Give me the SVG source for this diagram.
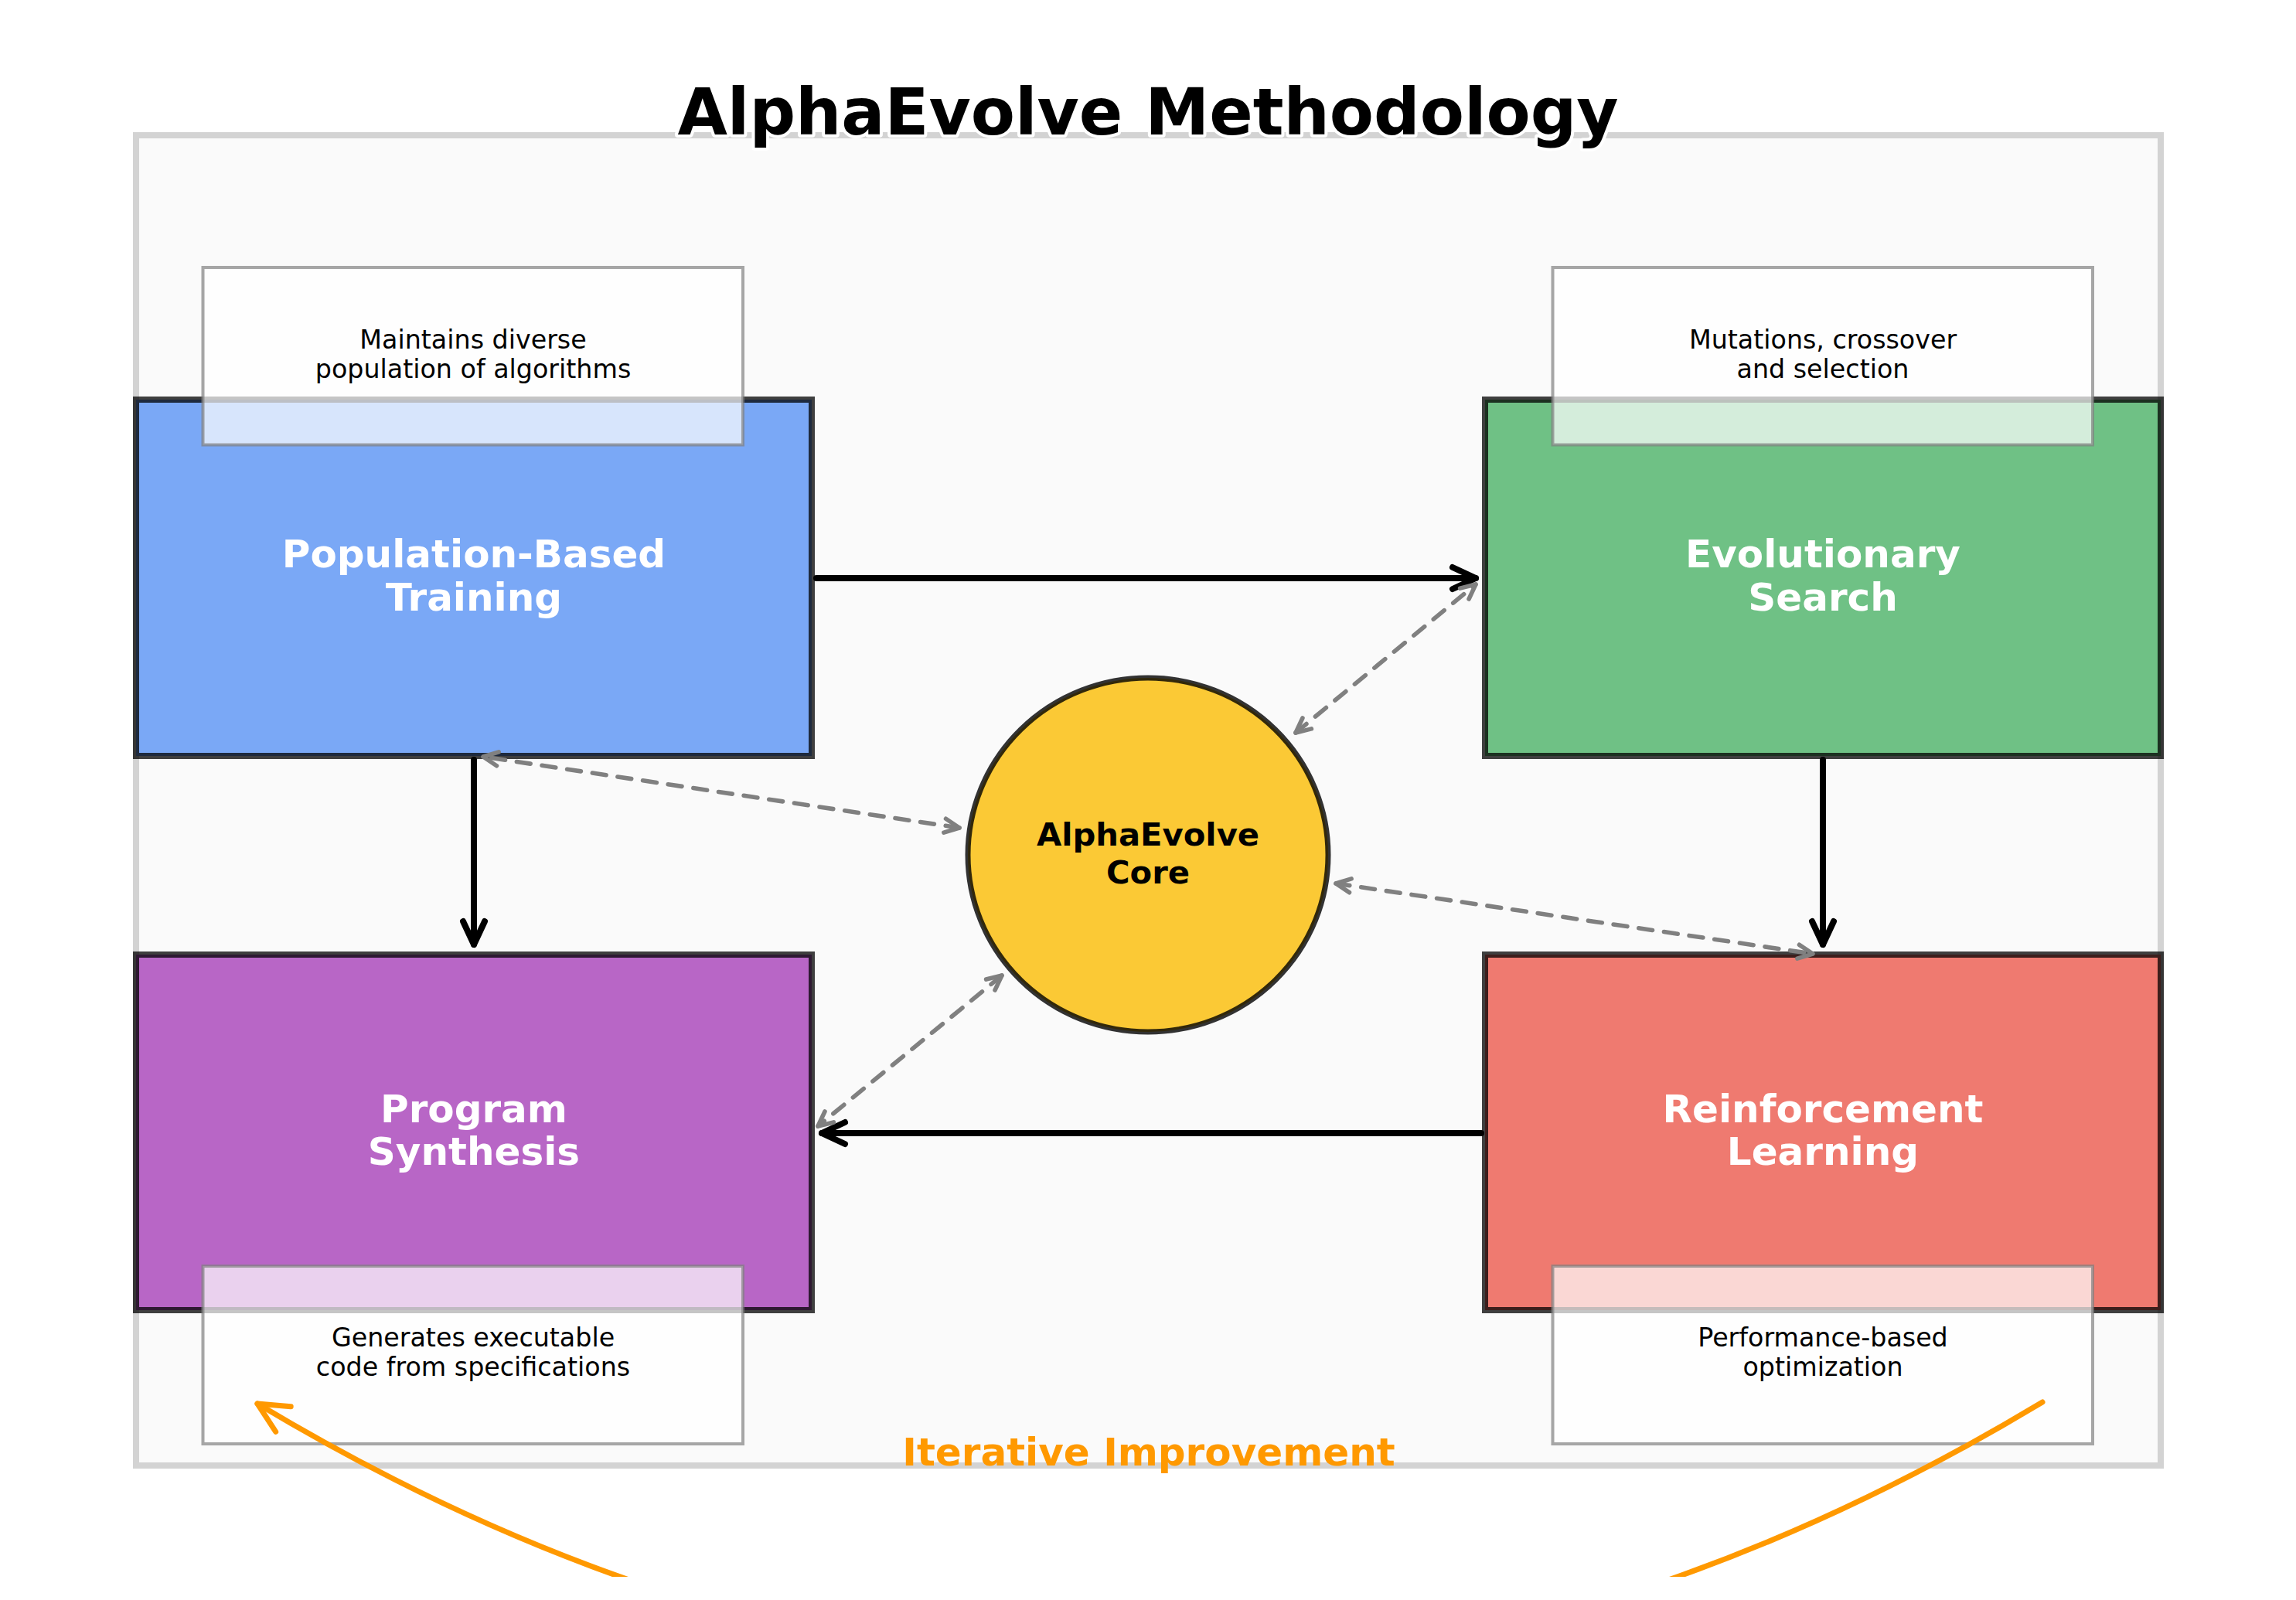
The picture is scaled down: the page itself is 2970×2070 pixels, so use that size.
<svg xmlns="http://www.w3.org/2000/svg" width="2970" height="2070" viewBox="0 0 2970 2070">
<style>
.lbl{font-family:"DejaVu Sans",sans-serif;font-weight:bold;font-size:50px;fill:#fff;text-anchor:middle}
.desc{font-family:"DejaVu Sans",sans-serif;font-size:33.3px;fill:#000;text-anchor:middle}
.box{stroke:#000;stroke-opacity:0.75;stroke-width:8}
.dbox{fill:#fff;fill-opacity:0.7;stroke:#808080;stroke-opacity:0.7;stroke-width:4}
.solid{fill:none;stroke:#000;stroke-width:8;stroke-linecap:round}
.dash{fill:none;stroke:#808080;stroke-width:5.6;stroke-dasharray:18 15;stroke-linecap:round}
.orange{fill:none;stroke:#ff9900;stroke-width:7;stroke-linecap:round}
</style>
<defs>
<marker id="ahBlack" markerUnits="userSpaceOnUse" markerWidth="60" markerHeight="60" refX="0" refY="0" orient="auto" overflow="visible">
<path d="M-30,-14 L0,0 L-30,14" fill="none" stroke="#000" stroke-width="8" stroke-linecap="round" stroke-linejoin="round"/>
</marker>
<marker id="ahGray" markerUnits="userSpaceOnUse" markerWidth="40" markerHeight="40" refX="0" refY="0" orient="auto-start-reverse" overflow="visible">
<path d="M-19,-9 L0,0 L-19,9" fill="none" stroke="#808080" stroke-width="5.6" stroke-linecap="round" stroke-linejoin="round" stroke-dasharray="none"/>
</marker>
<marker id="ahOrange" markerUnits="userSpaceOnUse" markerWidth="80" markerHeight="80" refX="0" refY="0" orient="auto" overflow="visible">
<path d="M-39,-19 L0,0 L-39,19" fill="none" stroke="#ff9900" stroke-width="7" stroke-linecap="round" stroke-linejoin="round"/>
</marker>
<clipPath id="axclip"><rect x="0" y="0" width="2970" height="2040"/></clipPath>
</defs>
<rect x="0" y="0" width="2970" height="2070" fill="#ffffff"/>
<rect id="frame" x="176" y="175" width="2619" height="1721" fill="#fafafa" stroke="#d3d3d3" stroke-width="8"/>
<text id="title" x="1485" y="174" font-family="DejaVu Sans, sans-serif" font-weight="bold" font-size="83.3" text-anchor="middle" fill="#000" stroke="#fff" stroke-width="8" stroke-linejoin="round" paint-order="stroke">AlphaEvolve Methodology</text>

<g id="node-pbt">
<rect class="box" x="176" y="517" width="874" height="461" fill="#7aa8f6"/>
<text class="lbl" x="613" y="734">Population-Based</text>
<text class="lbl" x="613" y="790">Training</text>
<rect class="dbox" x="262.5" y="346" width="698.5" height="229.5"/>
<text class="desc" x="612" y="451">Maintains diverse</text>
<text class="desc" x="612" y="489">population of algorithms</text>
</g>
<g id="node-es">
<rect class="box" x="1921" y="517" width="874" height="461" fill="#6fc185"/>
<text class="lbl" x="2358" y="734">Evolutionary</text>
<text class="lbl" x="2358" y="790">Search</text>
<rect class="dbox" x="2008.5" y="346" width="698.5" height="229.5"/>
<text class="desc" x="2358" y="451">Mutations, crossover</text>
<text class="desc" x="2358" y="489">and selection</text>
</g>
<g id="node-ps">
<rect class="box" x="176" y="1235" width="874" height="460" fill="#b866c6"/>
<text class="lbl" x="613" y="1452">Program</text>
<text class="lbl" x="613" y="1507">Synthesis</text>
<rect class="dbox" x="262.5" y="1638" width="698.5" height="230"/>
<text class="desc" x="612" y="1742">Generates executable</text>
<text class="desc" x="612" y="1780">code from specifications</text>
</g>
<g id="node-rl">
<rect class="box" x="1921" y="1235" width="874" height="460" fill="#ef7a70"/>
<text class="lbl" x="2358" y="1452">Reinforcement</text>
<text class="lbl" x="2358" y="1507">Learning</text>
<rect class="dbox" x="2008.5" y="1638" width="698.5" height="230"/>
<text class="desc" x="2358" y="1742">Performance-based</text>
<text class="desc" x="2358" y="1780">optimization</text>
</g>
<g id="node-core">
<ellipse cx="1485" cy="1106" rx="233" ry="229" fill="#fbc935" stroke="#000" stroke-opacity="0.8" stroke-width="7"/>
<text x="1485" y="1094" font-family="DejaVu Sans, sans-serif" font-weight="bold" font-size="41.7" text-anchor="middle" fill="#000">AlphaEvolve</text>
<text x="1485" y="1143" font-family="DejaVu Sans, sans-serif" font-weight="bold" font-size="41.7" text-anchor="middle" fill="#000">Core</text>
</g>

<text id="iter-label" x="1486" y="1896" font-family="DejaVu Sans, sans-serif" font-weight="bold" font-size="50" text-anchor="middle" fill="#ff9900">Iterative Improvement</text>

<g id="connectors">
<path class="solid" d="M1056,748 L1909,748" marker-end="url(#ahBlack)"/>
<path class="solid" d="M2358,983 L2358,1222" marker-end="url(#ahBlack)"/>
<path class="solid" d="M1916,1466 L1063,1466" marker-end="url(#ahBlack)"/>
<path class="solid" d="M613,983 L613,1222" marker-end="url(#ahBlack)"/>
<path class="dash" d="M1241,1071 L625,979" marker-start="url(#ahGray)" marker-end="url(#ahGray)"/>
<path class="dash" d="M1676,948 L1909,756" marker-start="url(#ahGray)" marker-end="url(#ahGray)"/>
<path class="dash" d="M1728,1143 L2345,1234" marker-start="url(#ahGray)" marker-end="url(#ahGray)"/>
<path class="dash" d="M1296,1262 L1058,1457" marker-start="url(#ahGray)" marker-end="url(#ahGray)"/>
<g clip-path="url(#axclip)">
<path class="orange" d="M2642,1814 Q1488,2508 333,1816" marker-end="url(#ahOrange)"/>
</g>
</g>
</svg>
